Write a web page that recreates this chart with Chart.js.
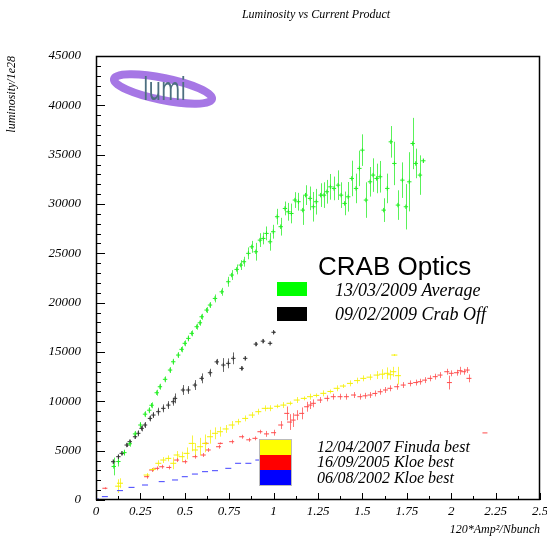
<!DOCTYPE html>
<html>
<head>
<meta charset="utf-8">
<title>Luminosity vs Current Product</title>
<script src="https://cdn.jsdelivr.net/npm/chart.js@4.4.1/dist/chart.umd.min.js"></script>
<style>
  html, body { margin: 0; padding: 0; background: #fff; }
  #wrap { width: 547px; height: 542px; }
</style>
</head>
<body>
<div id="wrap"><canvas id="lumiChart" width="547" height="542"></canvas></div>
<script>
// Dados (x = 120*Amp^2/Nbunch, y = luminosidade/1e28, err = barra vertical)

// 13/03/2009 Average (verde)
const greenX = [0.10, 0.126, 0.16, 0.19, 0.22, 0.25, 0.276, 0.30, 0.313, 0.342, 0.36, 0.389, 0.417, 0.435, 0.463, 0.482, 0.50, 0.52, 0.539, 0.567, 0.585, 0.595, 0.623, 0.642, 0.67, 0.708, 0.745, 0.764, 0.792, 0.815, 0.833, 0.858, 0.877, 0.90, 0.923, 0.942, 0.96, 0.98, 0.998, 1.02, 1.04, 1.064, 1.083, 1.10, 1.12, 1.14, 1.164, 1.18, 1.205, 1.224, 1.24, 1.265, 1.284, 1.30, 1.32, 1.34, 1.363, 1.38, 1.40, 1.42, 1.44, 1.464, 1.483, 1.50, 1.52, 1.543, 1.56, 1.58, 1.60, 1.62, 1.64, 1.66, 1.68, 1.70, 1.725, 1.745, 1.764, 1.783, 1.80, 1.824, 1.843];
const greenY = [3400, 3900, 4800, 5700, 6700, 7600, 8700, 9100, 9600, 10870, 11480, 12230, 13170, 14010, 14690, 15270, 15880, 16380, 16890, 17560, 17960, 18570, 19250, 19760, 20430, 21100, 22120, 22800, 23370, 23810, 24150, 25000, 25660, 25160, 26340, 26510, 27020, 26170, 27190, 28710, 27700, 29550, 29210, 29040, 30400, 30230, 29380, 30900, 30570, 29720, 30230, 30900, 30900, 31240, 31740, 31580, 31910, 30900, 30060, 30730, 32590, 31580, 33610, 35460, 30400, 32250, 32930, 32590, 32760, 29380, 31580, 36300, 34110, 29890, 32420, 29720, 32250, 36130, 34110, 32930, 34380];
const greenErr = [900, 500, 300, 300, 300, 300, 300, 300, 300, 300, 300, 300, 300, 300, 300, 300, 300, 300, 300, 300, 300, 300, 300, 300, 400, 400, 500, 500, 500, 500, 500, 600, 600, 900, 700, 600, 700, 900, 700, 800, 900, 700, 900, 1000, 800, 900, 1500, 1000, 1200, 1500, 1300, 1200, 1300, 1200, 1300, 1200, 1500, 1300, 1200, 1500, 1800, 1500, 1800, 1600, 1800, 1500, 1700, 1500, 1600, 1200, 1500, 1600, 2200, 1500, 1800, 2300, 3000, 2600, 1500, 2000, 200];

// 09/02/2009 Crab Off (preto)
const blackX = [0.097, 0.126, 0.145, 0.173, 0.19, 0.22, 0.238, 0.257, 0.276, 0.304, 0.323, 0.351, 0.379, 0.407, 0.435, 0.445, 0.49, 0.52, 0.557, 0.595, 0.642, 0.68, 0.717, 0.745, 0.773, 0.82, 0.84, 0.90, 0.94, 0.98, 1.0];
const blackY = [3880, 4390, 4730, 5570, 5910, 6410, 6760, 7260, 7600, 8270, 8610, 8950, 9290, 9620, 9960, 10300, 11150, 11150, 11650, 12330, 12900, 14000, 13680, 13850, 14360, 13340, 14360, 15800, 16100, 15880, 17000];
const blackErr = [200, 200, 200, 200, 200, 200, 300, 300, 300, 300, 300, 400, 400, 400, 400, 500, 500, 400, 500, 500, 400, 300, 700, 500, 600, 200, 200, 200, 200, 100, 100];

// 12/04/2007 Finuda best (amarelo)
const yellowX = [0.125, 0.135, 0.285, 0.32, 0.351, 0.379, 0.407, 0.435, 0.454, 0.482, 0.51, 0.539, 0.557, 0.586, 0.614, 0.642, 0.67, 0.698, 0.73, 0.764, 0.80, 0.84, 0.877, 0.914, 0.95, 0.98, 1.02, 1.055, 1.09, 1.13, 1.17, 1.205, 1.24, 1.28, 1.32, 1.355, 1.39, 1.43, 1.47, 1.505, 1.54, 1.58, 1.61, 1.637, 1.655, 1.674, 1.68, 1.70];
const yellowY = [1400, 1700, 2530, 3100, 3720, 4050, 4220, 3720, 4560, 4390, 4730, 5740, 5070, 5400, 5740, 6410, 6760, 6920, 7200, 7600, 7930, 8270, 8610, 8950, 9290, 9300, 9500, 9620, 9800, 10130, 10300, 10470, 10600, 10810, 11000, 11320, 11550, 11820, 12100, 12330, 12450, 12660, 12750, 12840, 12700, 13000, 14690, 12600];
const yellowErr = [700, 500, 200, 200, 300, 300, 300, 600, 400, 500, 600, 800, 700, 900, 900, 700, 600, 500, 400, 400, 300, 300, 300, 300, 300, 300, 200, 300, 200, 300, 200, 300, 200, 300, 200, 300, 200, 300, 300, 300, 300, 400, 500, 600, 500, 500, 100, 900];

// 16/09/2005 Kloe best (vermelho)
const redX = [0.0, 0.05, 0.285, 0.313, 0.342, 0.37, 0.41, 0.454, 0.50, 0.557, 0.604, 0.62, 0.632, 0.69, 0.70, 0.764, 0.82, 0.86, 0.895, 0.923, 0.96, 1.0, 1.04, 1.074, 1.09, 1.11, 1.13, 1.158, 1.186, 1.205, 1.224, 1.26, 1.30, 1.336, 1.374, 1.41, 1.45, 1.486, 1.515, 1.543, 1.57, 1.60, 1.63, 1.655, 1.693, 1.73, 1.77, 1.80, 1.824, 1.85, 1.88, 1.91, 1.937, 1.975, 1.99, 2.0, 2.03, 2.05, 2.07, 2.09, 2.1, 2.19];
const redY = [5900, 1190, 2360, 3040, 3210, 3370, 3300, 4050, 3880, 4390, 4560, 5740, 5070, 5400, 5740, 5910, 6410, 6100, 6250, 6920, 6700, 6820, 7600, 8780, 7900, 8100, 8600, 8780, 9450, 9620, 9800, 10130, 10300, 10470, 10470, 10470, 10640, 10470, 10560, 10640, 10800, 10970, 11150, 11320, 11480, 11650, 11820, 11900, 11990, 12150, 12330, 12500, 12660, 13000, 11900, 12840, 12900, 13100, 13000, 13170, 12330, 6800];
const redErr = [2200, 100, 200, 200, 200, 200, 200, 200, 200, 200, 200, 100, 200, 200, 100, 200, 200, 200, 200, 200, 300, 300, 400, 700, 800, 700, 500, 600, 500, 400, 400, 300, 300, 300, 300, 300, 300, 300, 300, 300, 300, 300, 300, 300, 300, 300, 300, 300, 300, 300, 300, 300, 300, 300, 700, 300, 300, 400, 300, 300, 400, 0];

// 06/08/2002 Kloe best (azul)
const blueX = [0.0, 0.05, 0.135, 0.2, 0.276, 0.37, 0.445, 0.5, 0.557, 0.614, 0.67, 0.745, 0.8, 0.858, 0.914, 0.97];
const blueY = [100, 340, 950, 1280, 1520, 1860, 2030, 2360, 2630, 2870, 2970, 3210, 3720, 3720, 4050, 4200];
const blueErr = [0, 0, 0, 0, 0, 0, 0, 0, 0, 0, 0, 0, 0, 0, 0, 0];

// Eixos
const xTicks = [0, 0.25, 0.5, 0.75, 1, 1.25, 1.5, 1.75, 2, 2.25, 2.5];
const yTicks = [0, 5000, 10000, 15000, 20000, 25000, 30000, 35000, 40000, 45000];

const serif = '"Liberation Serif", "Times New Roman", serif';

const toPoints = (xs, ys) => xs.map((x, i) => ({ x: x, y: ys[i] }));

function makeDataset(label, xs, ys, errs, color, style, radius) {
  return {
    label: label,
    data: toPoints(xs, ys),
    yErr: errs,
    borderColor: color,
    backgroundColor: color,
    pointStyle: style,
    pointRadius: radius,
    pointBorderWidth: 1,
    showLine: false
  };
}

// Barras de erro verticais
const errorBars = {
  id: 'errorBars',
  beforeDatasetsDraw(chart) {
    const { ctx, chartArea, scales } = chart;
    ctx.save();
    ctx.beginPath();
    ctx.rect(chartArea.left, chartArea.top, chartArea.width, chartArea.height);
    ctx.clip();
    chart.data.datasets.forEach(ds => {
      if (!ds.yErr) return;
      ctx.strokeStyle = ds.borderColor;
      ctx.globalAlpha = 0.75;
      ctx.lineWidth = 1;
      ds.data.forEach((p, i) => {
        const e = ds.yErr[i];
        if (!e) return;
        const px = Math.round(scales.x.getPixelForValue(p.x)) + 0.5;
        ctx.beginPath();
        ctx.moveTo(px, scales.y.getPixelForValue(p.y - e));
        ctx.lineTo(px, scales.y.getPixelForValue(p.y + e));
        ctx.stroke();
      });
    });
    ctx.restore();
  }
};

// Moldura, marcas internas, título, legendas e logotipo
const decorations = {
  id: 'decorations',
  afterDraw(chart) {
    const { ctx, chartArea: a, scales } = chart;
    ctx.save();

    // marcas dos eixos (para dentro)
    ctx.strokeStyle = '#000';
    ctx.lineWidth = 1;
    for (let v = 0; v <= 45000; v += 1000) {
      const py = Math.round(scales.y.getPixelForValue(v)) + 0.5;
      const len = v % 5000 === 0 ? 9 : 5;
      ctx.beginPath();
      ctx.moveTo(a.left, py);
      ctx.lineTo(a.left + len, py);
      ctx.stroke();
    }
    for (let k = 0; k <= 20; k++) {
      const v = k * 0.125;
      const px = Math.round(scales.x.getPixelForValue(v)) + 0.5;
      const len = k % 2 === 0 ? 7 : 4;
      ctx.beginPath();
      ctx.moveTo(px, a.bottom);
      ctx.lineTo(px, a.bottom - len);
      ctx.stroke();
    }

    // moldura
    ctx.lineWidth = 1.5;
    ctx.strokeRect(a.left + 0.5, a.top + 0.5, a.width - 1, a.height - 1);

    // título
    ctx.fillStyle = '#000';
    ctx.font = 'italic 12px ' + serif;
    ctx.textAlign = 'center';
    ctx.textBaseline = 'middle';
    ctx.fillText('Luminosity vs Current Product', 316, 15);

    // legenda CRAB
    ctx.textAlign = 'left';
    ctx.textBaseline = 'alphabetic';
    ctx.font = '26px "Liberation Sans", Arial, sans-serif';
    ctx.fillText('CRAB Optics', 318, 275);
    ctx.fillStyle = '#00ff00';
    ctx.fillRect(277, 282, 30, 14);
    ctx.fillStyle = '#000';
    ctx.fillRect(277, 307, 30, 14);
    ctx.font = 'italic 18px ' + serif;
    ctx.fillText('13/03/2009 Average', 335, 296);
    ctx.fillText('09/02/2009 Crab Off', 335, 320);

    // legenda antiga
    ctx.fillStyle = '#bbbbbb';
    ctx.fillRect(259, 439, 33, 47);
    ctx.fillStyle = '#ffff00';
    ctx.fillRect(260, 440, 31, 15);
    ctx.fillStyle = '#ff0000';
    ctx.fillRect(260, 455, 31, 15);
    ctx.fillStyle = '#0000ff';
    ctx.fillRect(260, 470, 31, 15);
    ctx.fillStyle = '#000';
    ctx.font = 'italic 16px ' + serif;
    ctx.fillText('12/04/2007 Finuda best', 317, 452);
    ctx.fillText('16/09/2005 Kloe best', 317, 467);
    ctx.fillText('06/08/2002 Kloe best', 317, 483);

    // logotipo lumi
    ctx.save();
    ctx.translate(163, 89);
    ctx.rotate(0.2);
    ctx.strokeStyle = 'rgba(150, 95, 225, 0.85)';
    ctx.lineWidth = 8;
    ctx.beginPath();
    ctx.ellipse(0, 0, 50, 11, 0, 0, Math.PI * 2);
    ctx.stroke();
    ctx.restore();
    ctx.save();
    ctx.translate(143, 100);
    ctx.scale(0.62, 1);
    ctx.fillStyle = '#4d6f80';
    ctx.font = '32px "DejaVu Sans", sans-serif';
    ctx.fillText('lumi', 0, 0);
    ctx.restore();

    ctx.restore();
  }
};

const ctx = document.getElementById('lumiChart');
new Chart(ctx, {
  type: 'scatter',
  data: {
    datasets: [
      makeDataset('13/03/2009 Average', greenX, greenY, greenErr, '#22ee22', 'cross', 2.2),
      makeDataset('09/02/2009 Crab Off', blackX, blackY, blackErr, '#333333', 'cross', 2.2),
      makeDataset('12/04/2007 Finuda best', yellowX, yellowY, yellowErr, '#f5f000', 'line', 3),
      makeDataset('16/09/2005 Kloe best', redX, redY, redErr, '#ff4a4a', 'line', 2.5),
      makeDataset('06/08/2002 Kloe best', blueX, blueY, blueErr, '#4040ff', 'line', 3)
    ]
  },
  options: {
    responsive: false,
    animation: false,
    devicePixelRatio: 1,
    layout: { padding: { top: 56, right: 7, bottom: 0, left: 0 } },
    plugins: {
      legend: { display: false },
      title: { display: false },
      tooltip: { enabled: false }
    },
    scales: {
      x: {
        type: 'linear',
        min: 0,
        max: 2.5,
        afterBuildTicks: s => { s.ticks = xTicks.map(v => ({ value: v })); },
        afterFit: s => { s.height = 42; s.paddingLeft = 0; s.paddingRight = 0; },
        ticks: {
          padding: 4,
          autoSkip: false,
          maxRotation: 0,
          color: '#000',
          font: { family: serif, style: 'italic', size: 13 },
          callback: v => String(Number(v.toFixed(2)))
        },
        grid: { display: false, drawTicks: false },
        border: { display: false },
        title: {
          display: true,
          text: '120*Amp²/Nbunch',
          align: 'end',
          color: '#000',
          font: { family: serif, style: 'italic', size: 12 },
          padding: { top: 0, bottom: 5 }
        }
      },
      y: {
        type: 'linear',
        min: 0,
        max: 45000,
        afterBuildTicks: s => { s.ticks = yTicks.map(v => ({ value: v })); },
        afterFit: s => { s.width = 96; s.paddingTop = 0; s.paddingBottom = 0; },
        ticks: {
          padding: 15,
          color: '#000',
          font: { family: serif, style: 'italic', size: 13 },
          callback: v => String(v)
        },
        grid: { display: false, drawTicks: false },
        border: { display: false },
        title: {
          display: true,
          text: 'luminosity/1e28',
          align: 'end',
          color: '#000',
          font: { family: serif, style: 'italic', size: 12 },
          padding: { top: 5, bottom: 0 }
        }
      }
    }
  },
  plugins: [errorBars, decorations]
});
</script>
</body>
</html>
